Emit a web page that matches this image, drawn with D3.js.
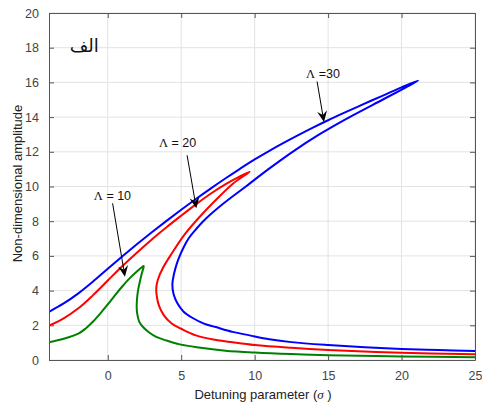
<!DOCTYPE html>
<html>
<head>
<meta charset="utf-8">
<script src="https://cdn.jsdelivr.net/npm/d3@7"></script>
<style>
  html, body { margin: 0; padding: 0; background: #fff; }
  svg { display: block; }
  text { font-family: "Liberation Sans", Arial, Helvetica, sans-serif; }
</style>
</head>
<body>
<svg id="chart" width="482" height="404"></svg>
<script>
// Frequency-response curves: [detuning sigma, amplitude] pairs.
// Each curve runs along the upper branch up to the jump point,
// then back along the inner (unstable) branch and out along the lower branch.
const curve10 = [
  [-4, 1.02], [-3, 1.22], [-2, 1.52], [-1.5, 1.82], [-1, 2.22], [-0.5, 2.69],
  [0, 3.2], [0.5, 3.74], [1, 4.25], [1.5, 4.72], [2, 5.12], [2.3, 5.33], [2.45, 5.42],
  [2.32, 5.0], [2.18, 4.5], [2.06, 4.0], [1.99, 3.5], [1.97, 3.0], [2.02, 2.6],
  [2.15, 2.2], [2.4, 1.9], [2.8, 1.6], [3.3, 1.33], [4.0, 1.12], [4.9, 0.9],
  [6.2, 0.72], [8, 0.54], [10, 0.43], [12.5, 0.34], [15, 0.28], [20, 0.2], [25, 0.16]
];
const curve20 = [
  [-4, 1.98], [-3, 2.4], [-2, 2.98], [-1, 3.74], [0, 4.58], [1, 5.42], [2, 6.2],
  [3, 6.95], [4, 7.65], [5, 8.32], [6, 8.97], [7, 9.58], [8, 10.12], [9, 10.58], [9.66, 10.85],
  [8.5, 10.15], [7.27, 9.15], [6.2, 8.2], [5.2, 7.2], [4.4, 6.2], [3.75, 5.3],
  [3.4, 4.6], [3.3, 4.1], [3.35, 3.6], [3.5, 3.1], [3.8, 2.6], [4.35, 2.1],
  [5.0, 1.8], [6.0, 1.42], [7.2, 1.18], [8.5, 1.02], [10, 0.86], [12.5, 0.7],
  [15, 0.58], [20, 0.42], [25, 0.33]
];
const curve30 = [
  [-4, 2.78], [-3, 3.26], [-2, 3.84], [-1, 4.52], [0, 5.26], [1, 5.98], [2, 6.68],
  [3, 7.36], [4, 8.02], [5, 8.66], [6, 9.28], [7, 9.88], [8, 10.46], [9, 11.02],
  [10, 11.56], [11, 12.06], [12, 12.53], [13, 12.98], [14, 13.41], [15, 13.82],
  [16, 14.21], [17, 14.59], [18, 14.97], [19, 15.34], [20, 15.71], [21.13, 16.1],
  [20.27, 15.7], [18.7, 15.0], [16.46, 14.0], [14.4, 13.0], [12.58, 12.0],
  [10.94, 11.0], [9.4, 10.0], [7.85, 9.0], [6.5, 8.0], [5.97, 7.5], [5.5, 7.0],
  [5.17, 6.5], [4.9, 6.0], [4.68, 5.5], [4.52, 5.0], [4.4, 4.4], [4.48, 3.8],
  [4.72, 3.3], [5.15, 2.8], [5.72, 2.45], [6.55, 2.1], [7.35, 1.9], [8.5, 1.62],
  [9.66, 1.42], [11, 1.2], [12.5, 1.03], [15, 0.86], [17.5, 0.73], [20, 0.63],
  [22.5, 0.57], [25, 0.52]
];

const xTicks = [0, 5, 10, 15, 20, 25];
const yTicks = [0, 2, 4, 6, 8, 10, 12, 14, 16, 18, 20];

// Arrow annotations: label, label anchor [sigma, amp], arrow tail and head.
const labelNames = ["10", "20", "30"];
const labelSeparators = [" = ", " = ", " ="];
const labelAt = [[0.32, 9.25], [4.75, 12.27], [14.65, 16.25]];
const arrowFrom = [[0.33, 9.03], [5.4, 11.8], [14.25, 16.05]];
const arrowTo = [[1.17, 4.8], [6.03, 8.74], [14.72, 13.72]];

const curves = [curve10, curve20, curve30];
const colors = ["#008000", "#ff0000", "#0000ff"];

const svg = d3.select("#chart");
const M = { left: 49, right: 475, top: 13, bottom: 360 };

const x = d3.scaleLinear().domain([-4, 25]).range([M.left, M.right]);
const y = d3.scaleLinear().domain([0, 20]).range([M.bottom, M.top]);

const axisColor = "#555";
const textColor = "#444";

// grid
const grid = svg.append("g");
grid.selectAll("line.gx").data(xTicks).enter().append("line")
  .attr("x1", d => x(d)).attr("x2", d => x(d))
  .attr("y1", M.top).attr("y2", M.bottom)
  .attr("stroke", "#e3e3e3").attr("stroke-width", 1);
grid.selectAll("line.gy").data(yTicks).enter().append("line")
  .attr("y1", d => y(d)).attr("y2", d => y(d))
  .attr("x1", M.left).attr("x2", M.right)
  .attr("stroke", "#e3e3e3").attr("stroke-width", 1);

// curves
const line = d3.line()
  .x(d => x(d[0])).y(d => y(d[1]))
  .curve(d3.curveCatmullRom.alpha(0.5));

const plot = svg.append("g");
plot.append("clipPath").attr("id", "clip").append("rect")
  .attr("x", M.left).attr("y", M.top)
  .attr("width", M.right - M.left).attr("height", M.bottom - M.top);
curves.forEach((c, i) => {
  plot.append("path")
    .attr("d", line(c))
    .attr("fill", "none")
    .attr("stroke", colors[i])
    .attr("stroke-width", 2)
    .attr("stroke-linejoin", "round")
    .attr("clip-path", "url(#clip)");
});

// axes (ticks pointing inward, box on all sides)
const tickLen = 5;
const axB = svg.append("g").attr("transform", `translate(0,${M.bottom})`)
  .call(d3.axisBottom(x).tickValues(xTicks).tickSizeInner(-tickLen).tickSizeOuter(0).tickPadding(11));
const axT = svg.append("g").attr("transform", `translate(0,${M.top})`)
  .call(d3.axisTop(x).tickValues(xTicks).tickSizeInner(-tickLen).tickSizeOuter(0).tickFormat(""));
const axL = svg.append("g").attr("transform", `translate(${M.left},0)`)
  .call(d3.axisLeft(y).tickValues(yTicks).tickSizeInner(-tickLen).tickSizeOuter(0).tickPadding(10));
const axR = svg.append("g").attr("transform", `translate(${M.right},0)`)
  .call(d3.axisRight(y).tickValues(yTicks).tickSizeInner(-tickLen).tickSizeOuter(0).tickFormat(""));

[axB, axT, axL, axR].forEach(a => {
  a.select(".domain").attr("stroke", axisColor);
  a.selectAll(".tick line").attr("stroke", axisColor);
  a.selectAll("text")
    .attr("fill", textColor)
    .style("font-size", "12.5px")
    .style("font-family", "'Liberation Sans', Arial, sans-serif");
});

// axis titles
const xt = svg.append("text")
  .attr("x", (M.left + M.right) / 2 + 1).attr("y", 399)
  .attr("text-anchor", "middle").attr("fill", "#222")
  .style("font-size", "13px");
xt.append("tspan").text("Detuning parameter (");
xt.append("tspan").text("σ").style("font-style", "italic")
  .style("font-family", "'Liberation Serif', 'DejaVu Serif', serif");
xt.append("tspan").text(" )");

svg.append("text")
  .attr("transform", `translate(22,${(M.top + M.bottom) / 2 - 3}) rotate(-90)`)
  .attr("text-anchor", "middle").attr("fill", "#222")
  .style("font-size", "13px")
  .text("Non-dimensional amplitude");

// panel tag
svg.append("text")
  .attr("x", x(-1.6)).attr("y", y(17.75))
  .attr("text-anchor", "middle").attr("fill", "#111")
  .style("font-family", "'DejaVu Sans', 'Noto Sans', sans-serif")
  .style("font-size", "18px")
  .attr("direction", "rtl")
  .text("الف");

// arrow annotations
const ann = svg.append("g");
labelNames.forEach((nm, i) => {
  const t = ann.append("text")
    .attr("x", x(labelAt[i][0])).attr("y", y(labelAt[i][1]))
    .attr("text-anchor", "middle").attr("fill", "#111")
    .style("font-size", "12.5px");
  t.append("tspan").text("Λ")
    .style("font-family", "'Liberation Serif', 'DejaVu Serif', serif");
  t.append("tspan").text(labelSeparators[i] + nm);

  const x0 = x(arrowFrom[i][0]), y0 = y(arrowFrom[i][1]);
  const x1 = x(arrowTo[i][0]), y1 = y(arrowTo[i][1]);
  const ang = Math.atan2(y1 - y0, x1 - x0);
  const L = 11, W = 5, notch = 7;
  const ux = Math.cos(ang), uy = Math.sin(ang);
  const px = -uy, py = ux;
  const bx = x1 - ux * L, by = y1 - uy * L;
  const nx = x1 - ux * notch, ny = y1 - uy * notch;
  ann.append("line")
    .attr("x1", x0).attr("y1", y0).attr("x2", nx).attr("y2", ny)
    .attr("stroke", "#000").attr("stroke-width", 1);
  ann.append("path")
    .attr("d", `M${x1},${y1} L${bx + px * W},${by + py * W} L${nx},${ny} L${bx - px * W},${by - py * W} Z`)
    .attr("fill", "#000");
});
</script>
</body>
</html>
